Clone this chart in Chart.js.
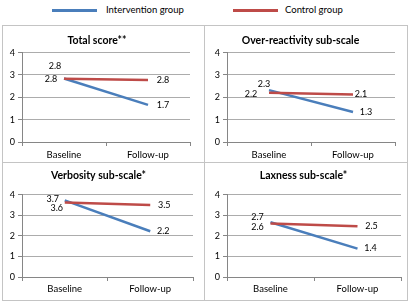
<!DOCTYPE html>
<html><head><meta charset="utf-8">
<script src="https://cdn.jsdelivr.net/npm/chart.js@4"></script>
<style>
html,body{margin:0;padding:0;background:#fff;width:413px;height:305px;overflow:hidden;font-family:Lato,sans-serif;}
.panel{position:absolute;}
.panel canvas{position:absolute;left:0;top:0;}
.frame{position:absolute;border:1px solid #c4c4c4;box-sizing:border-box;pointer-events:none;}
.leg{position:absolute;font-size:9.5px;color:#000;white-space:nowrap;line-height:12px;}
.sw{position:absolute;height:3px;}
</style></head><body>
<div class="sw" style="left:52px;top:9px;width:45px;background:#4a7ebb"></div>
<div class="leg" style="left:106px;top:4px">Intervention group</div>
<div class="sw" style="left:233px;top:9px;width:45px;background:#be4b48"></div>
<div class="leg" style="left:285px;top:4px">Control group</div>

<div class="panel" id="p0" style="left:2px;top:25px;width:202px;height:137px"><canvas id="c0"></canvas></div>
<div class="panel" id="p1" style="left:204px;top:25px;width:204px;height:137px"><canvas id="c1"></canvas></div>
<div class="panel" id="p2" style="left:2px;top:162px;width:202px;height:138px"><canvas id="c2"></canvas></div>
<div class="panel" id="p3" style="left:204px;top:162px;width:204px;height:138px"><canvas id="c3"></canvas></div>
<div class="frame" style="left:2px;top:25px;width:203px;height:138px"></div>
<div class="frame" style="left:204px;top:25px;width:204px;height:138px"></div>
<div class="frame" style="left:2px;top:162px;width:203px;height:139px"></div>
<div class="frame" style="left:204px;top:162px;width:204px;height:139px"></div>

<script>
// ---- data ----
const categories = ['Baseline', 'Follow-up'];
const seriesNames = ['Intervention group', 'Control group'];
const panelTitles = ['Total score**', 'Over-reactivity sub-scale', 'Verbosity sub-scale*', 'Laxness sub-scale*'];
const yTicks = [0, 1, 2, 3, 4];

const interventionTotal = [2.84, 1.66];
const controlTotal = [2.83, 2.77];
const interventionOverReactivity = [2.32, 1.34];
const controlOverReactivity = [2.2, 2.13];
const interventionVerbosity = [3.72, 2.22];
const controlVerbosity = [3.62, 3.5];
const interventionLaxness = [2.66, 1.38];
const controlLaxness = [2.6, 2.46];

// ---- styles / layout (not data) ----
const BLUE = '#4a7ebb', RED = '#be4b48';
const layouts = [
  {w:202,h:137, padL:2, padR:14, yW:18, titleTop:9, titleBot:6, xH:20, padB:0, xPad:3,
   off:[[[-9,-12],[15,0]],[[-13,0],[15,0]]]},
  {w:204,h:137, padL:2, padR:13, yW:21, titleTop:9, titleBot:6, xH:20, padB:0, xPad:3,
   off:[[[-5,-6],[13,0]],[[-18,1],[8,0]]]},
  {w:202,h:138, padL:2, padR:11, yW:18, titleTop:7, titleBot:13, xH:21, padB:2, xPad:2,
   off:[[[-12,-1],[13,0]],[[-8,6],[14,0]]]},
  {w:204,h:138, padL:2, padR:7, yW:21, titleTop:7, titleBot:13, xH:21, padB:2, xPad:2,
   off:[[[-13,-5],[13,0]],[[-13,4],[14,0]]]}
];
const panelData = [
  [interventionTotal, controlTotal],
  [interventionOverReactivity, controlOverReactivity],
  [interventionVerbosity, controlVerbosity],
  [interventionLaxness, controlLaxness]
];

const labelPlugin = {
  id: 'ptLabels',
  afterDatasetsDraw(chart, args, opts) {
    const ctx = chart.ctx;
    ctx.save();
    ctx.font = '9px Lato';
    ctx.fillStyle = '#000';
    ctx.textAlign = 'center';
    ctx.textBaseline = 'middle';
    chart.data.datasets.forEach((ds, i) => {
      const meta = chart.getDatasetMeta(i);
      meta.data.forEach((pt, j) => {
        const o = opts.offsets[i][j];
        ctx.fillText(ds.data[j].toFixed(1), pt.x + o[0], pt.y + o[1]);
      });
    });
    ctx.restore();
  }
};

panelData.forEach((pd, k) => {
  const L = layouts[k];
  const cv = document.getElementById('c' + k);
  cv.width = L.w; cv.height = L.h;
  cv.style.width = L.w + 'px'; cv.style.height = L.h + 'px';
  new Chart(cv, {
    type: 'line',
    data: {
      labels: categories,
      datasets: [
        {label: seriesNames[0], data: pd[0], borderColor: BLUE, backgroundColor: BLUE, borderWidth: 2.5, pointRadius: 0, tension: 0, order: 1},
        {label: seriesNames[1], data: pd[1], borderColor: RED, backgroundColor: RED, borderWidth: 2.5, pointRadius: 0, tension: 0, order: 0}
      ]
    },
    options: {
      responsive: false, animation: false, devicePixelRatio: 1,
      layout: {padding: {left: L.padL, right: L.padR, top: 0, bottom: L.padB}},
      plugins: {
        legend: {display: false}, tooltip: {enabled: false},
        title: {display: true, text: panelTitles[k], color: '#000',
          font: {family: 'Lato', size: 10.5, weight: 'bold'},
          padding: {top: L.titleTop, bottom: L.titleBot}},
        ptLabels: {offsets: L.off}
      },
      scales: {
        y: {
          min: 0, max: 4,
          afterBuildTicks: s => { s.ticks = yTicks.map(v => ({value: v})); },
          afterFit: s => { s.width = L.yW; },
          ticks: {color: '#000', font: {family: 'Lato', size: 9}, padding: 3},
          grid: {color: '#acacac', lineWidth: 1, tickLength: 4, tickColor: '#868686'},
          border: {color: '#868686', width: 1}
        },
        x: {
          offset: true,
          afterFit: s => { s.height = L.xH; },
          ticks: {color: '#000', font: {family: 'Lato', size: 9.5}, padding: L.xPad, maxRotation: 0},
          grid: {drawOnChartArea: false, tickLength: 4, color: '#868686', offset: true},
          border: {color: '#868686', width: 1}
        }
      }
    },
    plugins: [labelPlugin]
  });
});
</script>
</body></html>
